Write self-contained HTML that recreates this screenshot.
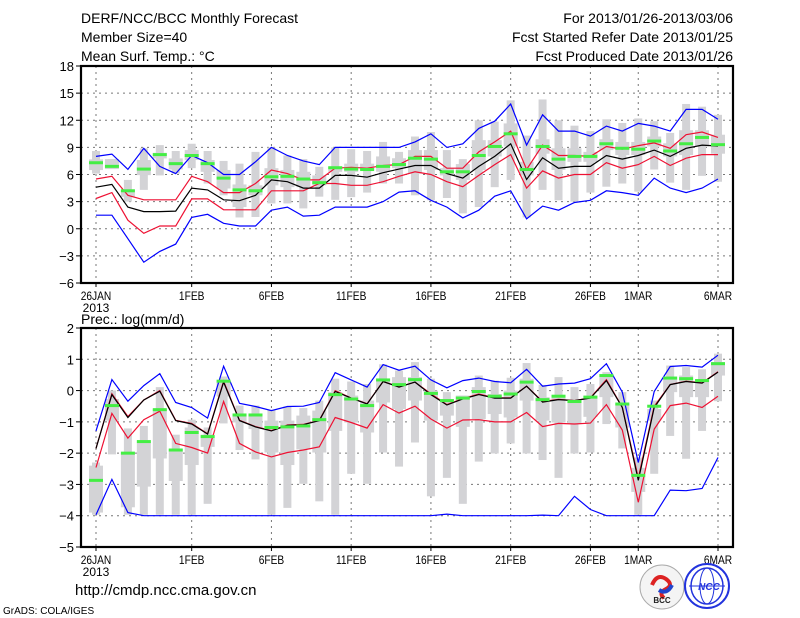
<!DOCTYPE html>
<html><head><meta charset="utf-8"><style>
html,body{margin:0;padding:0;background:#fff;}
svg{display:block;font-family:"Liberation Sans",sans-serif;}
</style></head><body>
<svg id="chart" width="800" height="618" viewBox="0 0 800 618" xmlns="http://www.w3.org/2000/svg">
<rect width="800" height="618" fill="#fff"/>
<g font-size="14" fill="#000">
<text x="81" y="23">DERF/NCC/BCC Monthly Forecast</text>
<text x="81" y="42">Member Size=40</text>
<text x="81" y="61">Mean Surf. Temp.: °C</text>
<text x="733" y="23" text-anchor="end">For 2013/01/26-2013/03/06</text>
<text x="733" y="42" text-anchor="end">Fcst Started Refer Date 2013/01/25</text>
<text x="733" y="61" text-anchor="end">Fcst Produced Date 2013/01/26</text>
<text x="81" y="324">Prec.: log(mm/d)</text>
<text x="75" y="595" font-size="15">http://cmdp.ncc.cma.gov.cn</text>
<text x="3" y="614" font-size="10">GrADS: COLA/IGES</text>
</g>
<g id="top"></g>
<g id="bot"></g>
<g>
<circle cx="662" cy="587" r="22" fill="#f4f4f4" stroke="#aaa" stroke-width="1"/>
<path d="M652 585 q5 -12 14 -6 q8 6 0 10 q-8 4 -2 9" fill="none" stroke="#d22" stroke-width="4"/>
<path d="M672 585 q-5 10 -13 5" fill="none" stroke="#2244cc" stroke-width="4"/>
<text x="662" y="603" font-size="8" font-weight="bold" text-anchor="middle" fill="#222">BCC</text>
</g>
<g>
<circle cx="707" cy="586" r="22" fill="#fff" stroke="#2233dd" stroke-width="2"/>
<ellipse cx="707" cy="586" rx="16" ry="18" fill="none" stroke="#2233dd" stroke-width="1.5"/>
<ellipse cx="707" cy="586" rx="7" ry="18" fill="none" stroke="#2233dd" stroke-width="1"/>
<line x1="689" y1="586" x2="725" y2="586" stroke="#2233dd" stroke-width="1"/>
<text x="709" y="590" font-size="10" font-weight="bold" font-style="italic" text-anchor="middle" fill="#2233dd">NCC</text>
</g>
</svg>
<script>
// ---- Temperature panel data (°C) ----
const tBlueHi=[8.0,8.26,6.56,8.9,6.9,6.1,8.1,7.3,6.0,6.0,7.4,9.0,8.1,7.5,7.1,9.0,9.0,9.0,9.0,9.0,9.6,10.5,9.0,9.4,11.1,11.9,13.8,9.25,12.6,10.8,10.8,10.25,11.35,10.8,11.65,11.35,10.8,13.2,13.2,12.1];
const tBlueLo=[1.5,1.5,-1.1,-3.7,-2.5,-1.7,1.25,1.6,0.6,0.3,0.3,2.05,2.4,1.4,1.5,2.4,2.4,2.4,3.0,4.05,4.2,3.15,2.4,1.2,2.05,3.6,4.2,1.1,2.5,2.05,2.9,3.15,4.2,4.0,3.7,5.6,4.5,4.0,4.5,5.5];
const tRedHi=[5.5,5.8,3.7,3.2,3.2,3.2,5.8,5.2,4.0,4.0,5.0,6.5,6.1,5.4,5.4,6.7,6.8,6.7,7.0,7.1,8.0,8.0,6.7,6.7,8.5,9.6,10.8,6.55,9.25,8.1,8.1,8.0,9.1,8.8,9.2,9.5,8.9,10.4,10.7,10.1];
const tRedLo=[3.35,4.0,0.95,-0.5,0.3,0.3,3.3,3.3,2.1,2.1,2.1,4.2,4.2,4.2,5.0,5.0,4.8,4.8,5.2,5.8,6.3,6.0,5.2,4.65,5.9,7.1,8.2,4.5,6.4,5.6,6.0,6.0,7.3,6.7,7.1,8.0,7.0,7.8,8.2,8.2];
const tMean=[4.6,4.9,2.4,1.9,1.9,1.95,4.5,4.3,3.2,3.1,3.7,5.4,5.2,4.5,4.5,5.9,5.9,5.7,6.2,6.6,7.0,7.0,6.1,5.6,6.9,8.0,9.4,5.45,7.85,6.7,6.9,6.9,8.1,7.7,8.1,8.7,8.0,8.9,9.25,9.15];
const tGreen=[7.3,6.9,4.2,6.6,8.2,7.2,8.1,7.2,5.6,4.3,4.2,5.75,5.8,5.5,5.1,6.75,6.6,6.55,6.9,7.1,7.8,7.7,6.3,6.3,8.1,9.1,10.5,6.55,9.1,7.7,8.0,8.0,9.4,8.9,8.8,9.7,8.6,9.4,10.1,9.3];
const tOutHi=[8.6,7.7,5.4,8.9,9.25,8.6,9.4,8.6,7.5,7.2,8.5,9.0,8.1,7.7,6.85,9.0,8.8,8.6,9.6,8.5,10.2,10.7,8.7,7.7,12.0,11.85,14.2,10.3,14.3,12.0,11.4,10.8,12.1,11.7,12.2,11.9,10.6,13.8,13.5,12.6];
const tOutLo=[6.1,6.6,3.0,4.3,5.9,6.1,6.7,5.0,3.7,1.25,1.3,2.8,2.8,2.25,3.55,3.2,3.5,4.0,5.0,5.0,3.7,3.15,3.4,1.7,2.4,4.6,5.4,1.25,4.3,3.15,3.0,4.0,4.65,5.0,4.1,6.55,5.1,4.3,5.85,5.2];
const tBoxHi=[7.67,7.7,4.27,7.6,8.4,7.78,8.7,7.6,6.5,4.9,4.8,6.7,6.5,6.3,5.9,6.85,7.2,7.2,8.0,7.8,8.7,8.7,6.7,7.15,9.8,9.8,11.65,7.4,9.9,8.9,8.9,8.5,9.9,9.6,9.6,10.2,9.45,10.9,10.9,10.4];
const tBoxLo=[6.49,6.6,3.53,5.93,7.78,6.56,7.6,6.3,4.45,2.4,3.7,4.8,4.6,4.6,4.8,6.3,6.3,6.5,6.3,6.7,6.1,6.5,5.9,5.4,6.5,8.0,9.1,5.9,8.3,6.5,7.4,7.4,8.7,8.15,8.15,9.1,8.0,8.15,9.1,8.3];
const tTicks=[-6,-3,0,3,6,9,12,15,18];
// ---- Precipitation panel data (log mm/d) ----
const pBlueHi=[-1.29,0.35,-0.34,0.16,0.54,-0.38,-0.54,-0.88,0.78,-0.41,-0.51,-0.64,-0.51,-0.5,-0.38,0.57,0.34,0.11,0.83,0.65,0.78,0.34,0.09,0.32,0.4,0.29,0.25,0.68,0.14,0.21,0.24,0.38,0.86,-0.05,-2.3,-0.03,0.77,0.8,0.75,1.13];
const pBlueLo=[-3.97,-2.84,-3.9,-4,-4,-4,-4,-4,-4,-4,-4,-4,-4,-4,-4,-4,-4,-4,-4,-4,-4,-4,-3.95,-4,-4,-4,-4,-4,-3.98,-4,-3.38,-3.8,-4,-4,-4,-4,-3.18,-3.2,-3.13,-2.14];
const pRedHi=[-1.85,-0.1,-0.83,-0.3,0.0,-0.95,-1.05,-1.38,0.3,-0.95,-1.15,-1.28,-1.1,-1.08,-0.95,0.0,-0.24,-0.42,0.29,0.12,0.27,-0.1,-0.45,-0.26,-0.11,-0.23,-0.23,0.14,-0.35,-0.28,-0.32,-0.23,0.35,-0.53,-2.79,-0.5,0.19,0.3,0.25,0.6];
const pRedLo=[-2.46,-0.73,-1.52,-0.93,-0.66,-1.69,-1.82,-2.0,-0.35,-1.69,-1.96,-2.12,-1.98,-1.9,-1.8,-0.86,-1.02,-1.2,-0.45,-0.72,-0.5,-0.91,-1.2,-0.94,-0.93,-1.0,-1.0,-0.7,-1.15,-1.05,-1.07,-1.04,-0.45,-1.26,-3.57,-1.23,-0.48,-0.4,-0.54,-0.18];
const pMean=[-1.85,-0.13,-0.86,-0.3,-0.02,-0.96,-1.07,-1.39,0.27,-0.96,-1.16,-1.29,-1.11,-1.09,-0.96,-0.03,-0.24,-0.43,0.29,0.11,0.27,-0.13,-0.46,-0.27,-0.13,-0.24,-0.24,0.14,-0.37,-0.29,-0.32,-0.24,0.32,-0.54,-2.87,-0.54,0.19,0.29,0.24,0.59];
const pGreen=[-2.87,-0.48,-2.0,-1.63,-0.61,-1.9,-1.34,-1.47,0.3,-0.78,-0.78,-1.18,-1.16,-1.13,-0.93,-0.13,-0.27,-0.48,0.34,0.19,0.35,-0.09,-0.32,-0.24,-0.03,-0.18,-0.11,0.27,-0.29,-0.18,-0.35,-0.21,0.48,-0.43,-2.71,-0.5,0.4,0.38,0.32,0.86];
const pOutHi=[-2.3,0,-1.21,-1.13,0.11,-1.41,-0.93,-1.18,0.45,-0.48,-0.48,-0.62,-0.51,-0.56,-0.32,0.38,0.29,0.21,0.84,0.64,0.91,0.38,-0.05,-0.16,0.48,0.32,0.41,0.88,0.18,0.43,0.11,0.21,0.59,-0.05,-2.14,-0.32,0.8,0.75,0.68,1.18];
const pOutLo=[-3.97,-2.04,-3.97,-3.97,-3.97,-3.97,-3.97,-3.62,-1.05,-1.9,-2.2,-3.97,-3.75,-2.98,-3.54,-3.97,-2.66,-2.98,-1.98,-2.43,-1.66,-3.38,-2.79,-3.62,-2.27,-2.01,-1.69,-2.01,-2.22,-2.79,-2.01,-1.98,-1.07,-1.85,-3.97,-2.66,-1.45,-2.18,-1.29,-0.34];
const pBoxHi=[-2.4,-0.27,-1.98,-1.66,-0.59,-1.88,-1.18,-1.41,0.27,-0.8,-0.75,-0.96,-0.96,-0.8,-0.64,-0.05,-0.16,-0.32,0.38,0.43,0.43,0,-0.27,-0.16,0.11,-0.11,0,0.38,-0.21,-0.16,-0.32,-0.16,0.43,-0.43,-2.47,-0.59,0.38,0.48,0.32,0.91];
const pBoxLo=[-3.9,-0.96,-3.73,-3.07,-2.17,-2.89,-2.38,-1.8,-0.19,-1.02,-1.23,-1.98,-2.38,-1.88,-1.98,-1.29,-1.02,-1.34,-0.38,-0.59,-0.32,-0.96,-0.8,-1.16,-0.91,-0.75,-0.86,-0.32,-0.96,-1.02,-1.07,-0.84,-0.21,-1.18,-3.24,-0.96,-0.05,-0.21,-0.21,0.48];
const pTicks=[-5,-4,-3,-2,-1,0,1,2];
// ---- shared x axis ----
const xLabels=["26JAN","1FEB","6FEB","11FEB","16FEB","21FEB","26FEB","1MAR","6MAR"];
const xLabelDays=[0,6,11,16,21,26,31,34,39];
const nDays=40;

const NS="http://www.w3.org/2000/svg";
const L=81,R=733;
function xs(i){return 96+i*(622/39);}
function mk(tag,attrs,parent){const e=document.createElementNS(NS,tag);for(const k in attrs)e.setAttribute(k,attrs[k]);parent.appendChild(e);return e;}

function panel(g,top,bot,ymin,ymax,ticks,d){
  const ys=v=>bot-(v-ymin)/(ymax-ymin)*(bot-top);
  ticks.forEach(t=>{
    if(t>ymin&&t<ymax){const l=mk('line',{x1:L,x2:R,y1:ys(t),y2:ys(t),stroke:'#777','stroke-width':1,'stroke-dasharray':'2,4'},g);
    
    }
    const tk=mk('line',{x1:L-5,x2:L,y1:ys(t),y2:ys(t),stroke:'#000','stroke-width':1},g);
    
    
    const tx=mk('text',{x:L-7,y:ys(t)+5,'text-anchor':'end','font-size':13,fill:'#000'},g);
    tx.textContent=(t<0?'\u2212'+(-t):String(t));
    
    
  });
  xLabelDays.forEach((di,k)=>{
    const x=xs(di);
    const l=mk('line',{x1:x,x2:x,y1:top,y2:bot,stroke:'#777','stroke-width':1,'stroke-dasharray':'2,4'},g);
    
    
    const tk=mk('line',{x1:x,x2:x,y1:bot,y2:bot+4,stroke:'#000','stroke-width':1},g);
    
    
    const tx=mk('text',{x:x,y:bot+17,'text-anchor':'middle','font-size':12,fill:'#000','transform':`translate(${x},0) scale(0.85,1) translate(${-x},0)`},g);
    tx.textContent=xLabels[k];
    
    
  });
  const yr=mk('text',{x:xs(0),y:bot+29,'text-anchor':'middle','font-size':12,fill:'#000'},g);
  yr.textContent='2013';
  
  
  for(let i=0;i<nDays;i++){
    const x=xs(i);
    const o=mk('rect',{x:x-4,width:8,y:ys(d.oh[i]),height:Math.max(1,ys(d.ol[i])-ys(d.oh[i])),fill:'#d3d3d6'},g);
    
    
    const b=mk('rect',{x:x-7,width:14,y:ys(d.bh[i]),height:Math.max(1,ys(d.bl[i])-ys(d.bh[i])),fill:'#d3d3d6'},g);
    
    
  }
  const line=(arr,col,name)=>{
    const p=mk('polyline',{points:arr.map((v,i)=>xs(i).toFixed(1)+','+ys(v).toFixed(1)).join(' '),fill:'none',stroke:col,'stroke-width':1.2},g);
    
    
  };
  line(d.bh2,'#0000ff','max-line');
  line(d.bl2,'#0000ff','min-line');
  line(d.rh,'#ee1133','upper-band-line');
  line(d.rl,'#ee1133','lower-band-line');
  line(d.m,'#000000','mean-line');
  for(let i=0;i<nDays;i++){
    const x=xs(i);
    const gr=mk('rect',{x:x-7,width:14,y:ys(d.g[i])-1.5,height:3,fill:'#44ee44'},g);
    
    
  }
  const f=mk('rect',{x:L,y:top,width:R-L,height:bot-top,fill:'none',stroke:'#000','stroke-width':2.2},g);
  
  
}
panel(document.getElementById('top'),66,283,-6,18,tTicks,{oh:tOutHi,ol:tOutLo,bh:tBoxHi,bl:tBoxLo,bh2:tBlueHi,bl2:tBlueLo,rh:tRedHi,rl:tRedLo,m:tMean,g:tGreen});
panel(document.getElementById('bot'),328,547,-5,2,pTicks,{oh:pOutHi,ol:pOutLo,bh:pBoxHi,bl:pBoxLo,bh2:pBlueHi,bl2:pBlueLo,rh:pRedHi,rl:pRedLo,m:pMean,g:pGreen});
</script>
</body></html>
